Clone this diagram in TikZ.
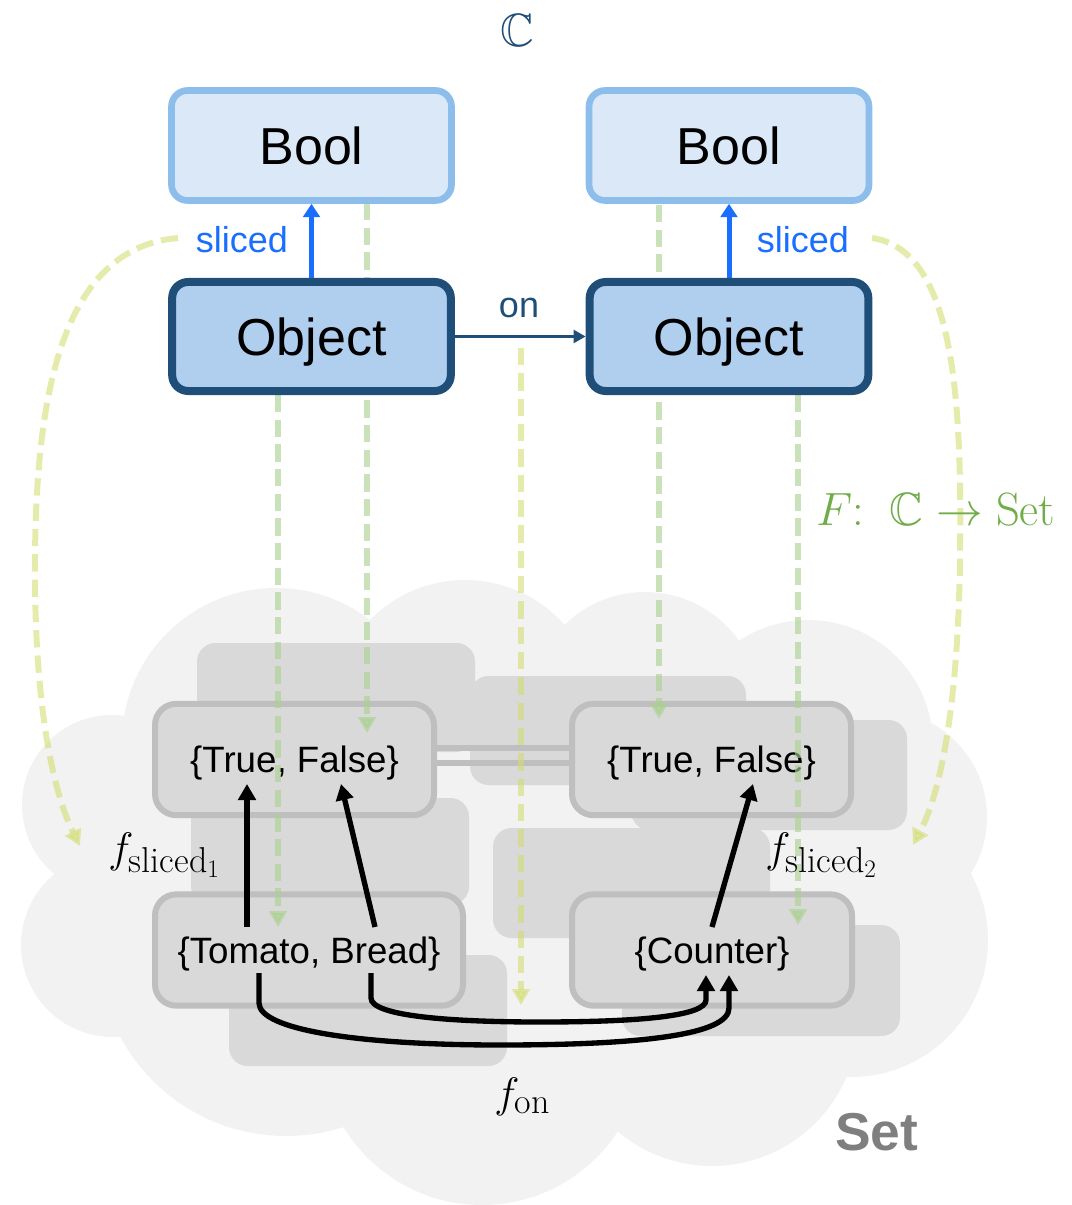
\RequirePackage{fix-cm}
\documentclass[tikz,border=0pt]{standalone}
\usepackage{amsmath,amssymb}
\usepackage{fontspec}
\setsansfont{Liberation Sans}
\usetikzlibrary{arrows.meta}
\pgfdeclarelayer{back}
\pgfdeclarelayer{mid}
\pgfsetlayers{back,mid,main}

\definecolor{boolfill}{HTML}{DAE8F7}
\definecolor{boolline}{HTML}{8DBDEA}
\definecolor{objfill}{HTML}{B0CFEF}
\definecolor{navy}{HTML}{1F4E79}
\definecolor{slicedblue}{HTML}{1A6EFF}
\definecolor{cloudgray}{HTML}{F2F2F2}
\definecolor{shadowgray}{HTML}{D9D9D9}
\definecolor{setline}{HTML}{BFBFBF}
\definecolor{mapgreen}{HTML}{A9D18E}
\definecolor{mapyellow}{HTML}{D2DE6E}
\definecolor{labelgreen}{HTML}{70AD47}
\definecolor{setgray}{HTML}{7F7F7F}

% subscript label of a function: italic f with a roman, fairly large index
\newcommand{\fnlabel}[1]{$f_{\hbox{\fontsize{27}{31}\selectfont #1}}$}

\begin{document}
\begin{tikzpicture}[x=0.75pt,y=-0.75pt,
  boolbox/.style={draw=boolline, fill=boolfill, line width=5pt, rounded corners=12pt,
    minimum width=210pt, minimum height=82.5pt, inner sep=0pt,
    font=\sffamily\fontsize{39}{46}\selectfont, text height=27.9pt, text depth=0pt},
  objbox/.style={boolbox, draw=navy, fill=objfill, line width=6pt,
    minimum width=209pt, minimum height=81.75pt},
  setbox/.style={draw=setline, fill=shadowgray, line width=4.5pt, rounded corners=16pt,
    minimum height=83.5pt, inner sep=0pt,
    font=\sffamily\fontsize{27.5}{32}\selectfont, text height=19.6pt, text depth=0pt},
  ghost/.style={fill=shadowgray, rounded corners=14pt},
  pairline/.style={draw=setline, line width=4pt},
  fmap/.style={draw=mapgreen, opacity=0.62, line width=4.5pt, dash pattern=on 13pt off 5.5pt,
    -{Triangle[length=12pt,width=13pt]}},
  ymap/.style={draw=mapyellow, opacity=0.58, line width=4.5pt, dash pattern=on 13pt off 6pt,
    -{Triangle[length=12pt,width=13pt]}},
  slicedarrow/.style={draw=slicedblue, line width=3.75pt, -{Triangle[length=10pt,width=12.5pt]}},
  onarrow/.style={draw=navy, line width=2.9pt, -{Triangle[length=9pt,width=9.5pt]}},
  fun/.style={draw=black, line width=4pt, -{Triangle[length=12pt,width=13pt]}},
  bluelabel/.style={text=slicedblue, font=\sffamily\fontsize{27}{32}\selectfont},
  mathlabel/.style={font=\fontsize{32}{38}\selectfont, anchor=base west, inner sep=0pt}
]
\useasboundingbox (0,0) rectangle (1071,1205);

% ---------------- the category Set: cloud, shadows and sets ----------------
\begin{pgfonlayer}{back}
  \fill[cloudgray]
    (112,805) circle[radius=67.5pt]
    (113,945) circle[radius=69pt]
    (276,742) circle[radius=115.5pt]
    (465,713) circle[radius=99.75pt]
    (645,707) circle[radius=86.25pt]
    (808,745) circle[radius=93.75pt]
    (880,817) circle[radius=80.25pt]
    (851,940) circle[radius=102.75pt]
    (712,1020) circle[radius=109.5pt]
    (482,1043) circle[radius=121.5pt]
    (286,948) circle[radius=141pt];
  \fill[cloudgray] (112,805) -- (276,742) -- (465,713) -- (645,707) -- (808,745)
    -- (880,817) -- (851,940) -- (712,1020) -- (482,1043) -- (286,948) -- (113,945) -- cycle;

  \fill[ghost] (197,643) rectangle (475,752);
  \fill[ghost] (470,676) rectangle (746,785);
  \fill[ghost] (631,720) rectangle (907,830);
  \fill[ghost] (191,798) rectangle (469,905);
  \fill[ghost] (493,828) rectangle (770,938);
  \fill[ghost] (622,925) rectangle (900,1036);
  \fill[ghost] (229,955) rectangle (507,1066);

  \node[setbox, minimum width=209.25pt] (tfL) at (294.5,759.5) {\{True, False\}};
  \node[setbox, minimum width=209.25pt] (tfR) at (711.5,759.5) {\{True, False\}};
  \node[setbox, minimum width=231pt] (food) at (309,950) {\{Tomato, Bread\}};
  \node[setbox, minimum width=210pt] (place) at (712,950) {\{Counter\}};

  \draw[pairline] ([yshift=8.6pt]tfL.east) -- ([yshift=8.6pt]tfR.west);
  \draw[pairline] ([yshift=-2.6pt]tfL.east) -- ([yshift=-2.6pt]tfR.west);
\end{pgfonlayer}

% ---------------- the category C ----------------
\node[boolbox] (boolL) at (311.5,145.5) {Bool};
\node[boolbox] (boolR) at (729,145.5) {Bool};
\node[objbox] (objL) at (311.5,336.5) {Object};
\node[objbox] (objR) at (729,336.5) {Object};

\node[text=navy, anchor=base, inner sep=0pt, font=\fontsize{35}{42}\selectfont] (cat) at (517,47) {$\mathbb{C}$};

\draw[slicedarrow] (objL.north) -- (boolL.south);
\draw[slicedarrow] (objR.north) -- (boolR.south);
\node[bluelabel] (slL) at (242,240) {sliced};
\node[bluelabel] (slR) at (803,240) {sliced};

\draw[onarrow] (objL.east) -- (objR.west);
\node[text=navy, font=\sffamily\fontsize{27}{32}\selectfont] (onlab) at (519,308) {on};

% ---------------- the functor F ----------------
\coordinate (gA1) at (367,203);  \coordinate (gA2) at (367,733);
\coordinate (gB1) at (278,395);  \coordinate (gB2) at (278,927);
\coordinate (gC1) at (659,205);  \coordinate (gC2) at (659,719);
\coordinate (gD1) at (798,395);  \coordinate (gD2) at (798,925);
\coordinate (yM1) at (521,348);  \coordinate (yM2) at (521,1005);
\coordinate (yL1) at (178,238);  \coordinate (yL2) at (80,846);
\coordinate (yR1) at (872,238);  \coordinate (yR2) at (913,845);

\begin{pgfonlayer}{mid}
  \draw[fmap] (gA1) -- (gA2);
  \draw[fmap] (gB1) -- (gB2);
  \draw[fmap] (gC1) -- (gC2);
  \draw[fmap] (gD1) -- (gD2);
  \draw[ymap] (yM1) -- (yM2);
  \draw[ymap] (yL1) .. controls (60,248) and (36,400) .. (35,560)
                    .. controls (34,700) and (52,790) .. (yL2);
  \draw[ymap] (yR1) .. controls (955,250) and (962,400) .. (960,560)
                    .. controls (958,700) and (942,790) .. (yR2);
\end{pgfonlayer}

\node[text=labelgreen, anchor=base west, inner sep=0pt, font=\fontsize{35}{42}\selectfont]
  (functor) at (816,525) {$F{:}\;\;\mathbb{C}\to\mathrm{Set}$};

% ---------------- functions between the sets ----------------
\coordinate (s1a) at (247,927);  \coordinate (s1b) at (247,784);
\coordinate (s2a) at (375,927);  \coordinate (s2b) at (341,784);
\coordinate (s3a) at (712,927);  \coordinate (s3b) at (753,784);
\coordinate (o1a) at (259,973);  \coordinate (o1b) at (729,975);
\coordinate (o2a) at (371,973);  \coordinate (o2b) at (706,975);

\draw[fun] (s1a) -- (s1b);
\draw[fun] (s2a) -- (s2b);
\draw[fun] (s3a) -- (s3b);
\draw[fun] (o1a) -- (259,1003) .. controls (259,1030) and (360,1045) .. (500,1045)
           .. controls (640,1045) and (729,1035) .. (729,1008) -- (o1b);
\draw[fun] (o2a) -- (371,998) .. controls (371,1016) and (450,1022) .. (540,1022)
           .. controls (640,1022) and (706,1016) .. (706,1000) -- (o2b);

\node[mathlabel] (fs1) at (108,862) {\fnlabel{sliced$_1$}};
\node[mathlabel] (fs2) at (765,862) {\fnlabel{sliced$_2$}};
\node[mathlabel] (fon) at (494,1107) {\fnlabel{on}};

\node[text=setgray, anchor=base west, inner sep=0pt,
  font=\sffamily\bfseries\fontsize{40}{48}\selectfont] (setname) at (835,1150) {Set};
\end{tikzpicture}
\end{document}
